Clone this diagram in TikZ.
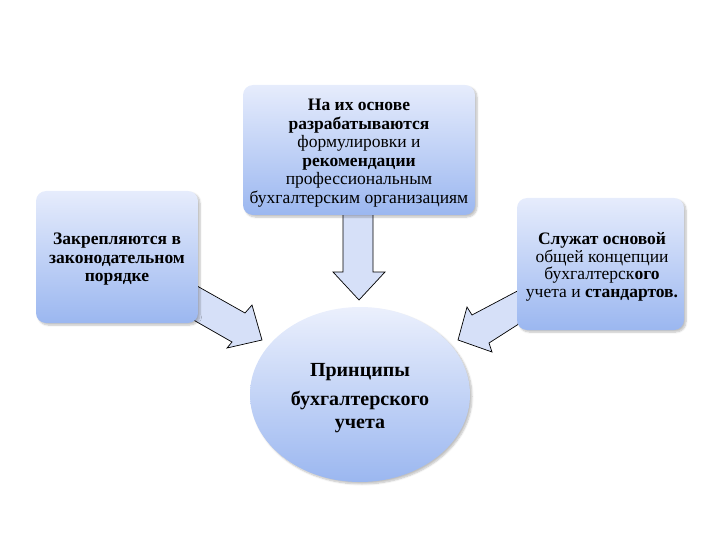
\documentclass[tikz,border=0pt]{standalone}
\usepackage{fontspec}
\setmainfont{Liberation Serif}
\usetikzlibrary{shapes.geometric,shadows.blur}
\definecolor{boxtop}{RGB}{230,236,252}
\definecolor{boxbot}{RGB}{155,183,240}
\definecolor{arrowfill}{RGB}{214,224,248}
\tikzset{
  box/.style={rectangle, rounded corners=10pt, top color=boxtop, bottom color=boxbot, draw=none,
    blur shadow={shadow xshift=2pt, shadow yshift=-2pt, shadow blur steps=6, shadow opacity=25}},
  boxtext/.style={align=center, font=\fontsize{17.5}{18.5}\selectfont, inner sep=0pt},
  oval/.style={ellipse, top color=boxtop!80!white, bottom color=boxbot, draw=none,
    blur shadow={shadow xshift=2pt, shadow yshift=-2pt, shadow blur steps=6, shadow opacity=25}},
  ovaltext/.style={align=center, font=\fontsize{20}{22}\selectfont\bfseries, inner sep=0pt},
  blockarrow/.style={fill=arrowfill, draw=black, line width=0.7pt, line join=miter}
}
\begin{document}
\begin{tikzpicture}[x=1pt,y=-1pt]
\useasboundingbox (0,0) rectangle (720,540);
% block arrows (behind)
\draw[blockarrow] (343,205) -- (343,272) -- (333,272) -- (359,300) -- (385,272) -- (373,272) -- (373,205) -- cycle;
\draw[blockarrow] (190,282) -- (245,313) -- (252,305) -- (262,340) -- (227,348) -- (232,342) -- (190,318) -- cycle;
\draw[blockarrow] (525,287) -- (472,315) -- (467,307) -- (458,340) -- (492,352) -- (489,343) -- (525,320) -- cycle;
% boxes
\node[box, minimum width=232pt, minimum height=130pt] (top) at (359,150) {};
\node[boxtext] (toptext) at (359,153)
  {\textbf{На их основе}\\ \textbf{разрабатываются}\\ формулировки и\\ \textbf{рекомендации}\\ профессиональным\\ бухгалтерским организациям};
\node[box, minimum width=162pt, minimum height=132pt] (left) at (117,257) {};
\node[boxtext] (lefttext) at (117,259.5)
  {\textbf{Закрепляются в}\\ \textbf{законодательном}\\ \textbf{порядке}};
\node[box, minimum width=167pt, minimum height=132pt] (right) at (600.5,264) {};
\node[boxtext, font=\fontsize{17.5}{17.5}\selectfont] (righttext) at (602,267)
  {\textbf{Служат основой}\\ общей концепции\\ бухгалтерск\textbf{ого}\\ учета и \textbf{стандартов.}};
\node[oval, minimum width=220pt, minimum height=175pt] (center) at (360,394.5) {};
\node[ovaltext] (centertext) at (360,398)
  {Принципы\\[7pt] бухгалтерского\\[1pt] учета};
\end{tikzpicture}
\end{document}
